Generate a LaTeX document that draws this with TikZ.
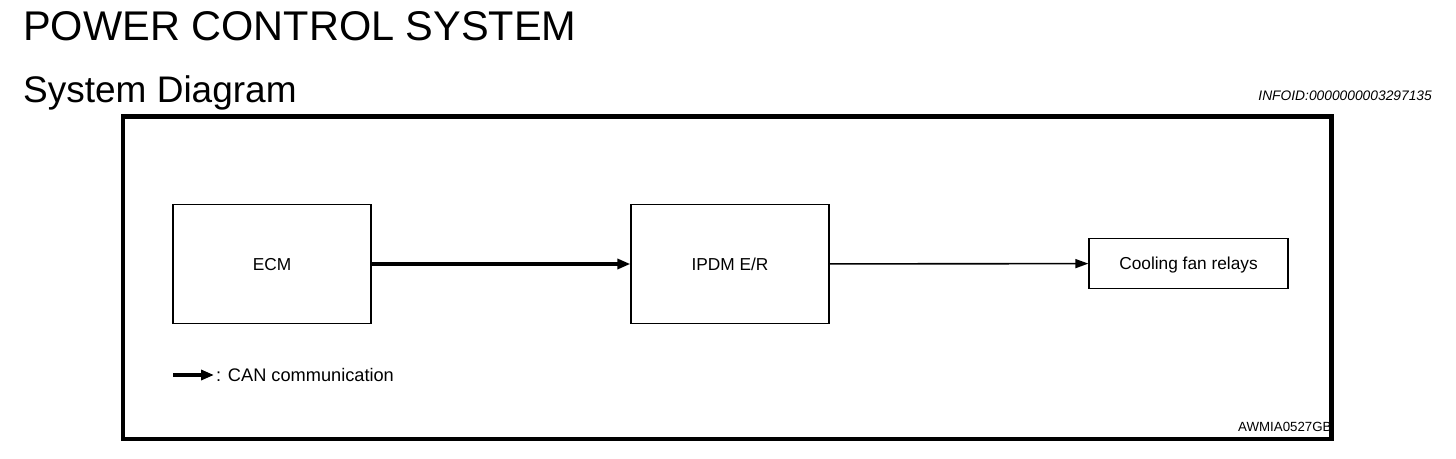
\documentclass[tikz,border=0pt]{standalone}
\usepackage{fontspec}
\setmainfont{Liberation Sans}
\usetikzlibrary{arrows.meta}

\begin{document}
\begin{tikzpicture}[x=1pt, y=-1pt,
    unit/.style={draw, line width=1.3pt, minimum width=198pt, text height=12.5pt, text depth=0pt, font=\fontsize{17.3}{20}\selectfont},
    can/.style={line width=4pt, -{Triangle[length=13pt, width=10pt]}},
    wire/.style={line width=1.6pt, -{Triangle[length=13pt, width=9pt]}}]

    \useasboundingbox (0,0) rectangle (1456,458);

    % headings
    \node[anchor=base west, inner sep=0pt, font=\fontsize{41.5}{48}\selectfont] (title) at (23,40) {POWER CONTROL SYSTEM};
    \node[anchor=base west, inner sep=0pt, font=\fontsize{37}{44}\selectfont] (subtitle) at (23,102) {System Diagram};
    \node[anchor=base east, inner sep=0pt, font=\fontsize{13.8}{16}\selectfont\itshape] (infoid) at (1432,100) {INFOID:0000000003297135};

    % units
    \node[unit, minimum height=119pt] (ECM) at (272,264) {ECM};
    \node[unit, minimum height=119pt] (IPDM) at (730,264) {IPDM E/R};
    \node[unit, minimum width=199pt, minimum height=50pt] (FAN) at (1188.5,263.5) {Cooling fan relays};

    \draw[can] (ECM) -- (IPDM);
    \draw[wire] (IPDM) -- (FAN);

    % legend
    \coordinate (legA) at (173,375);
    \coordinate (legB) at (214,375);
    \draw[can] (legA) -- (legB);
    \node[anchor=base west, inner sep=0pt, font=\fontsize{18.2}{20}\selectfont] (legend) at (216,381) {: CAN communication};

    % picture code, cut by the frame
    \begin{scope}
        \clip (1200,400) rectangle (1332,450);
        \node[anchor=base west, inner sep=0pt, font=\fontsize{13.3}{16}\selectfont] (code) at (1238,431) {AWMIA0527GB};
    \end{scope}

    % frame
    \draw[line width=4.5pt] (123,116.5) rectangle (1331.5,439);

\end{tikzpicture}
\end{document}
